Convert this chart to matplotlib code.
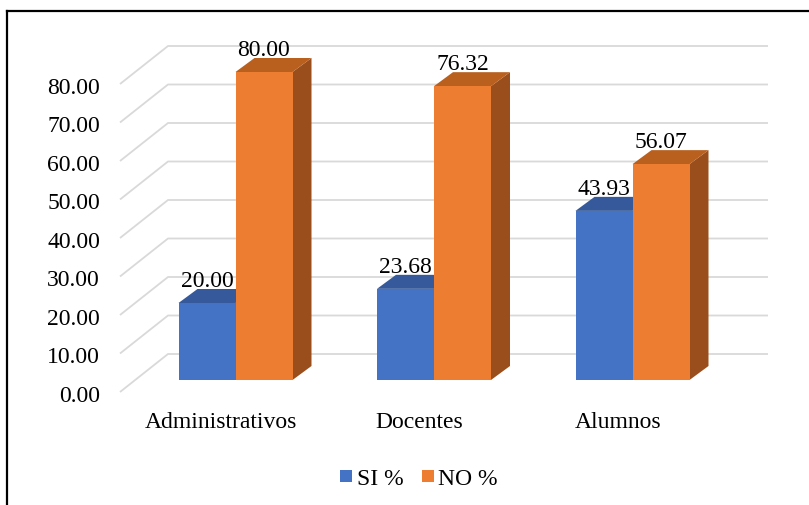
import matplotlib
matplotlib.use("Agg")
import matplotlib.pyplot as plt
from matplotlib.patches import Polygon, Rectangle

# ---- data ----
categories = ["Administrativos", "Docentes", "Alumnos"]
si_pct = [20.00, 23.68, 43.93]
no_pct = [80.00, 76.32, 56.07]
series_names = ["SI %", "NO %"]
y_ticks = [0, 10, 20, 30, 40, 50, 60, 70, 80]

# ---- styles ----
FONT = ["Liberation Serif", "DejaVu Serif"]
FS = 17
front_cols = ["#4472C4", "#ED7D31"]
top_cols = ["#35599A", "#B9601F"]
side_cols = ["#2E4F88", "#9A4E1C"]
grid_col = "#D9D9D9"

W, H = 809, 506
PX_X = 198.5      # pixels per category step
PX_Y = 3.85       # pixels per value unit
X0, Y0 = 235.5, 381.0   # pixel position of first category centre / zero line

bar_w = 57 / PX_X
depth_x = 19 / PX_X
depth_y = 14 / PX_Y
wall_dx = (168 - 120) / PX_X
wall_front_x = (120 - X0) / PX_X
wall_right_x = (768 - X0) / PX_X
wall_back_dy = (381 - 355) / PX_Y
wall_front_dy = (381 - 393) / PX_Y

fig = plt.figure(figsize=(W / 100, H / 100), dpi=100)
ax = fig.add_axes([0, 0, 1, 1])
ax.set_xlim(-X0 / PX_X, (W - X0) / PX_X)
ax.set_ylim((Y0 - H) / PX_Y, Y0 / PX_Y)
ax.axis("off")

# back wall gridlines and floor diagonals
for v in y_ticks:
    yb = v + wall_back_dy
    yf = v + wall_front_dy
    ax.plot([wall_front_x, wall_front_x + wall_dx, wall_right_x], [yf, yb, yb],
            color=grid_col, lw=1.3, solid_capstyle="butt", zorder=1)
    ax.text(wall_front_x - 20 / PX_X, v - 3.38 - 2.0, f"{v:.2f}",
            ha="right", va="baseline", fontsize=FS, family=FONT, color="#000000")

# 3-D style bars
for i, cat in enumerate(categories):
    for s, vals in enumerate([si_pct, no_pct]):
        v = vals[i]
        x_left = i - bar_w if s == 0 else i
        x_right = x_left + bar_w
        z = 3 + s
        side = Polygon([(x_right, 0), (x_right + depth_x, depth_y),
                        (x_right + depth_x, v + depth_y), (x_right, v)],
                       closed=True, facecolor=side_cols[s], edgecolor="none", zorder=z)
        top = Polygon([(x_left, v), (x_left + depth_x, v + depth_y),
                       (x_right + depth_x, v + depth_y), (x_right, v)],
                      closed=True, facecolor=top_cols[s], edgecolor="none", zorder=z)
        ax.add_patch(side)
        ax.add_patch(top)
        ax.bar(x_left, v, width=bar_w, align="edge", color=front_cols[s],
               edgecolor="none", zorder=z)
        ax.text(x_left + bar_w / 2, v + depth_y + 0.8, f"{v:.2f}",
                ha="center", va="baseline", fontsize=FS, family=FONT,
                color="#000000", zorder=10)
    ax.text(i - 14.5 / PX_X, -12.2, cat, ha="center", va="baseline",
            fontsize=FS, family=FONT, color="#000000")

# legend
leg_items = [(340, 357), (422, 438)]
for (sq_x, tx), name, col in zip(leg_items, series_names, front_cols):
    fig.add_artist(Rectangle((sq_x / W, 1 - 483 / H), 12 / W, 12 / H,
                             transform=fig.transFigure, facecolor=col,
                             edgecolor="none"))
    fig.text(tx / W, 1 - 485 / H, name, ha="left", va="baseline",
             fontsize=FS, family=FONT, color="#000000")

# chart border (top and left edges visible)
fig.add_artist(plt.Line2D([7 / W, 1.0], [1 - 12 / H, 1 - 12 / H],
                          transform=fig.transFigure, color="#000000", lw=1.6))
fig.add_artist(plt.Line2D([7 / W, 7 / W], [0.0, 1 - 12 / H],
                          transform=fig.transFigure, color="#000000", lw=1.6))

fig.savefig("out.png", dpi=100)
